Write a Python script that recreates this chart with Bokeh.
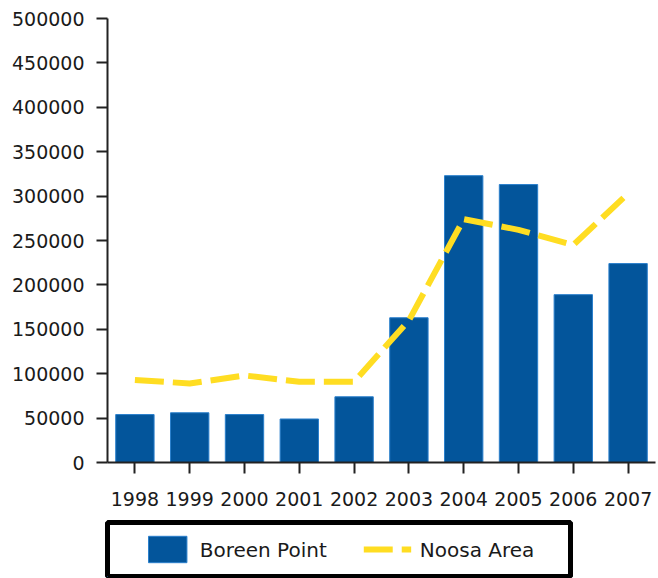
from bokeh.plotting import figure
from bokeh.models import FactorRange, Range1d, SingleIntervalTicker, BasicTickFormatter, Legend, LegendItem, ColumnDataSource
from bokeh.layouts import column
from bokeh.embed import file_html
from bokeh.resources import INLINE

years = ["1998", "1999", "2000", "2001", "2002", "2003", "2004", "2005", "2006", "2007"]
boreen_point = [54000, 56000, 54000, 49000, 74000, 163000, 323000, 313000, 189000, 224000]
noosa_area = [93000, 89000, 98000, 91000, 91000, 160000, 274000, 262000, 245000, 303000]

BAR = "#03559B"
YEL = "#FFDD22"
FONT = "DejaVu Sans"

src = ColumnDataSource(dict(x=years, b=boreen_point, n=noosa_area))

p = figure(width=658, height=518, x_range=FactorRange(*years, range_padding=0),
           y_range=Range1d(0, 500000), output_backend="svg", toolbar_location=None,
           min_border_left=107, min_border_top=18, min_border_bottom=56, min_border_right=0)
p.outline_line_color = None
p.xgrid.visible = False
p.ygrid.visible = False

p.vbar(x="x", top="b", width=0.7, source=src, fill_color=BAR, line_color="#2A7FCC", line_width=1)
p.line(x="x", y="n", source=src, line_color=YEL, line_width=6, line_dash="29 9", line_join="round")

p.yaxis.ticker = SingleIntervalTicker(interval=50000)
p.yaxis.formatter = BasicTickFormatter(use_scientific=False)
for ax in (p.xaxis[0], p.yaxis[0]):
    ax.axis_line_width = 2
    ax.axis_line_color = "#222222"
    ax.major_tick_line_width = 2
    ax.major_tick_line_color = "#222222"
    ax.major_tick_out = 11
    ax.major_tick_in = 0
    ax.minor_tick_line_color = None
    ax.major_label_text_font = FONT
    ax.major_label_text_font_size = "19px"
    ax.major_label_text_color = "#1a1a1a"
p.yaxis.major_label_standoff = 12
p.xaxis.major_label_standoff = 18

# legend box (separate small figure; the dummy renderers sit outside its visible range)
lg = figure(width=573, height=60, x_range=Range1d(0, 1), y_range=Range1d(0, 1),
            output_backend="svg", toolbar_location=None,
            x_axis_location=None, y_axis_location=None,
            min_border_left=107, min_border_right=3, min_border_top=4, min_border_bottom=2)
lg.xgrid.visible = False
lg.ygrid.visible = False
lg.outline_line_color = "black"
lg.outline_line_width = 5
lsrc = ColumnDataSource(dict(x=[-5, -4], y=[-5, -4]))
r1 = lg.vbar(x="x", top="y", width=0.5, source=lsrc, fill_color=BAR, line_color="#2A7FCC", line_width=1)
r2 = lg.line(x="x", y="y", source=lsrc, line_color=YEL, line_width=6, line_dash="29 9")
legend = Legend(items=[LegendItem(label="Boreen Point", renderers=[r1]),
                       LegendItem(label="Noosa Area", renderers=[r2])],
                location="center", orientation="horizontal",
                border_line_alpha=0, background_fill_alpha=0,
                glyph_width=48, glyph_height=33, label_standoff=9, spacing=36,
                padding=0, margin=0,
                label_text_font=FONT, label_text_font_size="20px", label_text_color="#1a1a1a")
lg.add_layout(legend, "center")

layout = column(p, lg, spacing=0)
open("out.html", "w").write(file_html(layout, INLINE))
